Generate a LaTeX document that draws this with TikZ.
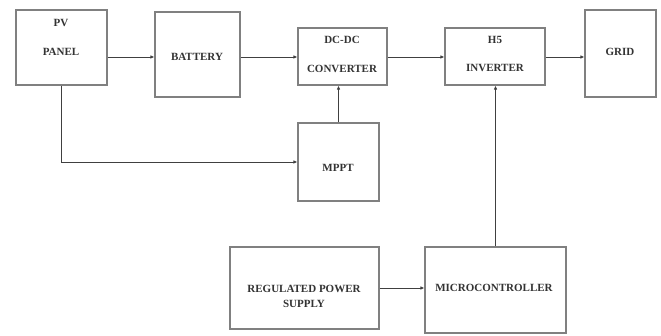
\documentclass[tikz,border=0pt]{standalone}
\usepackage{fontspec}
\setmainfont{Liberation Serif}
\usetikzlibrary{arrows.meta}
\begin{document}
\begin{tikzpicture}[x=1pt,y=-1pt,
  box/.style={draw=black!50, line width=1.1pt, rectangle, inner sep=0pt},
  txt/.style={font=\fontsize{11}{12}\selectfont\bfseries, text=black!80, inner sep=0pt, align=center},
  arr/.style={draw=black!75, line width=0.8pt, -{Latex[length=4pt,width=3.5pt]}}]
\useasboundingbox[fill=white] (0,0) rectangle (661,336);
% boxes
\node[box, minimum width=91pt, minimum height=75pt] (pv) at (61.5,47.5) {};
\node[box, minimum width=85pt, minimum height=85pt] (bat) at (197.5,54.5) {};
\node[box, minimum width=89pt, minimum height=57pt] (dc) at (342.5,56.5) {};
\node[box, minimum width=100pt, minimum height=57pt] (h5) at (495,56.5) {};
\node[box, minimum width=71pt, minimum height=87pt] (grid) at (620.5,53.5) {};
\node[box, minimum width=81pt, minimum height=78pt] (mppt) at (338.5,162) {};
\node[box, minimum width=149pt, minimum height=82pt] (rps) at (304.5,288) {};
\node[box, minimum width=141pt, minimum height=86pt] (mc) at (495.5,290) {};
% texts
\node[txt] (tpv1) at (61,23) {PV};
\node[txt] (tpv2) at (61,52) {PANEL};
\node[txt] (tbat) at (197,57) {BATTERY};
\node[txt] (tdc1) at (342,40) {DC-DC};
\node[txt] (tdc2) at (342,69) {CONVERTER};
\node[txt] (th51) at (495,40) {H5};
\node[txt] (th52) at (495,68) {INVERTER};
\node[txt] (tgrid) at (620,52) {GRID};
\node[txt] (tmppt) at (338,168) {MPPT};
\node[txt] (trps) at (304,296) {REGULATED POWER\\[3pt]SUPPLY};
\node[txt] (tmc) at (494,288) {MICROCONTROLLER};
% connectors
\coordinate (row) at (0,57);
\draw[arr] (pv.east |- row) -- (bat.west |- row);
\draw[arr] (bat.east |- row) -- (dc.west |- row);
\draw[arr] (dc.east |- row) -- (h5.west |- row);
\draw[arr] (h5.east |- row) -- (grid.west |- row);
\draw[arr] (pv.south) |- (mppt.west);
\draw[arr] (mppt.north) -- (mppt.north |- dc.south);
\draw[arr] (mc.north) -- (mc.north |- h5.south);
\draw[arr] (rps.east) -- (mc.west |- rps.east);
\end{tikzpicture}
\end{document}
